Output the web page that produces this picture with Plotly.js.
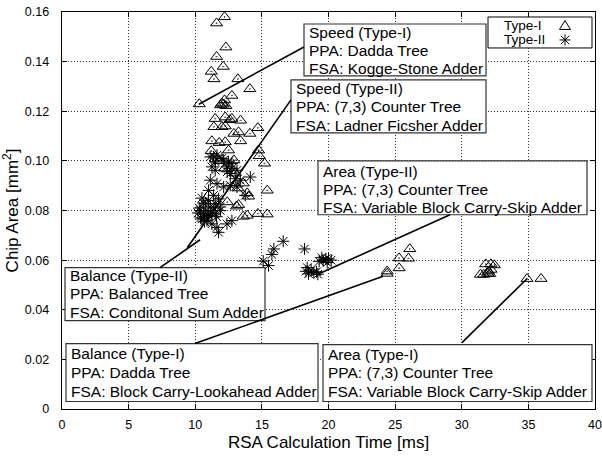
<!DOCTYPE html>
<html><head><meta charset="utf-8">
<script src="https://cdn.plot.ly/plotly-3.0.1.min.js"></script>
<style>html,body{margin:0;padding:0;background:#fff}#chart{width:602px;height:459px}</style>
</head><body><div id="chart"></div>
<script>
// ---- data ----
const typeI_x = [12.2,11.6,12.3,11.6,12.1,11.2,11.4,13.2,14.1,12.75,10.3,12.2,11.9,12.1,12.3,12.0,
  11.5,12.25,12.6,12.75,13.4,
  11.4,12.0,12.25,14.7,
  14.1,12.9,13.25,
  11.25,11.8,12.25,13.4,
  12.5,14.75,14.8,15.2,12.9,
  15.4,14.0,13.1,13.9,14.7,15.4,12.4,13.25,13.9,13.6,13.2,13.6,
  11.2,11.8,12.2,13.0,
  24.4,24.4,25.3,25.3,26.0,26.1,
  31.8,32.2,32.45,31.4,31.65,31.95,32.2,32.1,32.0,
  34.9,35.95];
const typeI_y = [0.158,0.1555,0.1458,0.142,0.138,0.136,0.133,0.133,0.129,0.1263,0.1229,0.1245,0.1225,0.1228,0.1222,0.1232,
  0.117,0.1176,0.1165,0.117,0.1163,
  0.1137,0.1137,0.114,0.1133,
  0.111,0.111,0.1116,
  0.108,0.1073,0.1076,0.108,
  0.1043,0.1043,0.102,0.099,0.1003,
  0.0881,0.0857,0.0817,0.078,0.0787,0.0785,0.0834,0.0823,0.087,0.0776,0.089,0.091,
  0.104,0.1,0.097,0.095,
  0.0555,0.0546,0.0568,0.0608,0.0607,0.0645,
  0.0584,0.0584,0.058,0.0542,0.0542,0.0547,0.0562,0.0545,0.0555,
  0.0525,0.0525];
const typeII_x = [11.13,11.38,11.63,12.13,12.5,12.75,11.25,11.5,12.38,13.13,12.63,13.0,13.38,14.13,11.13,11.63,12.13,12.63,13.13,13.75,
  11.0,11.38,11.75,10.75,11.13,11.5,11.88,10.38,10.63,11.0,11.5,11.88,10.5,10.88,11.25,11.63,12.38,12.75,11.75,
  10.2,10.3,10.4,10.6,10.8,11.0,11.2,10.5,11.4,10.9,10.7,11.6,
  12.4,12.0,11.5,12.75,
  16.6,15.9,15.75,15.1,15.5,18.2,
  18.3,18.5,18.7,18.9,19.1,18.4,19.2,
  19.3,19.6,19.8,20.0,20.2,19.5,19.9];
const typeII_y = [0.1016,0.1016,0.1023,0.1003,0.0996,0.0989,0.0976,0.0962,0.0976,0.0962,0.0949,0.0928,0.0922,0.0935,0.0922,0.0908,0.0895,0.0901,0.0895,0.0861,
  0.0881,0.0861,0.0847,0.0827,0.0814,0.0827,0.0814,0.08,0.0786,0.078,0.0786,0.08,0.0766,0.0759,0.0746,0.0732,0.0746,0.0759,0.0712,
  0.079,0.081,0.077,0.083,0.08,0.084,0.079,0.085,0.081,0.0775,0.0755,0.0775,
  0.0956,0.101,0.0996,0.097,
  0.0676,0.0645,0.0623,0.0596,0.0578,0.0645,
  0.0555,0.0545,0.056,0.055,0.0553,0.057,0.0543,
  0.0595,0.06,0.0605,0.0605,0.06,0.061,0.059];
const xTickVals = [0,5,10,15,20,25,30,35,40];
const xTickText = ['0','5','10','15','20','25','30','35','40'];
const yTickVals = [0,0.02,0.04,0.06,0.08,0.10,0.12,0.14,0.16];
const yTickText = ['0','0.02','0.04','0.06','0.08','0.10','0.12','0.14','0.16'];
const seriesNames = ['Type-I','Type-II'];
const boxLines = [
  ['Speed (Type-I)','PPA: Dadda Tree','FSA: Kogge-Stone Adder'],
  ['Speed (Type-II)','PPA: (7,3) Counter Tree','FSA: Ladner Ficsher Adder'],
  ['Area (Type-II)','PPA: (7,3) Counter Tree','FSA: Variable Block Carry-Skip Adder'],
  ['Balance (Type-II)','PPA: Balanced Tree','FSA: Conditonal Sum Adder'],
  ['Balance (Type-I)','PPA: Dadda Tree','FSA: Block Carry-Lookahead Adder'],
  ['Area (Type-I)','PPA: (7,3) Counter Tree','FSA: Variable Block Carry-Skip Adder']
];
// pointed-at design points (data units)
const pointX = [10.3, 9.4, 19.2, 10.36, 24.1, 34.9];
const pointY = [0.1229, 0.065, 0.0543, 0.0682, 0.0535, 0.0525];

// ---- layout geometry (pixels) ----
const PL=62, PR=595, PT=12, PB=409.5, W=602, H=459;
const xp = px => (px-PL)/(PR-PL);
const yp = py => (PB-py)/(PB-PT);
const fx = px => xp(px)*40;
const fy = py => yp(py)*0.16;
// boxes: [left, top, right, bottom, line centres]
const boxes = [
  [304,24,486,76,[32.3,50.3,69]],
  [291,80,486,133,[88.3,106.7,125.7]],
  [318,161,587,215,[171.7,189.3,207.7]],
  [65,268,265,321,[275.5,293.8,312.5]],
  [66,344,318,402,[354.3,372.7,391.7]],
  [323,345,592,402,[355,373.3,392.3]]
];
// pointer starting points on box edges (pixels)
const pointerFrom = [[304,47],[291,100],[450,215],[160,268],[195,344],[462,343]];

const FONT = 'Liberation Sans, Arial, Helvetica, sans-serif';
const shapes = [], annotations = [];
boxes.forEach((b,i)=>{
  shapes.push({type:'rect',xref:'paper',yref:'paper',x0:xp(b[0]),x1:xp(b[2]),y0:yp(b[3]),y1:yp(b[1]),
    line:{color:'#333',width:1.2},fillcolor:'white',layer:'above'});
  b[4].forEach((cy,j)=>{
    annotations.push({xref:'paper',yref:'paper',x:xp(b[0]+2.5),y:yp(cy),xanchor:'left',yanchor:'middle',
      text:boxLines[i][j],showarrow:false,font:{family:FONT,size:15.5,color:'#000'}});
  });
});
pointerFrom.forEach((p,i)=>{
  shapes.push({type:'line',xref:'x',yref:'y',x0:fx(p[0]),y0:fy(p[1]),x1:pointX[i],y1:pointY[i],
    line:{color:'#000',width:1.6},layer:'above'});
});
// legend box, texts and key symbols
shapes.push({type:'rect',xref:'paper',yref:'paper',x0:xp(488),x1:xp(592),y0:yp(48),y1:yp(17),
  line:{color:'#000',width:1},fillcolor:'white',layer:'above'});
annotations.push({xref:'paper',yref:'paper',x:xp(502),y:yp(25.5),xanchor:'left',yanchor:'middle',text:seriesNames[0],showarrow:false,font:{family:FONT,size:13.5,color:'#000'}});
annotations.push({xref:'paper',yref:'paper',x:xp(502),y:yp(40),xanchor:'left',yanchor:'middle',text:seriesNames[1],showarrow:false,font:{family:FONT,size:13.5,color:'#000'}});
const P = (px,py)=>xp(px).toFixed(5)+','+yp(py).toFixed(5);
const kx = 565, k1 = 25.5, k2 = 40, kr = 5.5;
shapes.push({type:'path',xref:'paper',yref:'paper',layer:'above',line:{color:'#000',width:1},
  path:'M'+P(kx-5.5,k1+4)+' L'+P(kx+5.5,k1+4)+' L'+P(kx,k1-5)+' Z'});
[[0,kr,0,-kr],[kr,0,-kr,0],[kr*0.75,kr*0.75,-kr*0.75,-kr*0.75],[kr*0.75,-kr*0.75,-kr*0.75,kr*0.75]].forEach(s=>{
  shapes.push({type:'line',xref:'paper',yref:'paper',layer:'above',line:{color:'#000',width:1},
    x0:xp(kx+s[0]),y0:yp(k2+s[1]),x1:xp(kx+s[2]),y1:yp(k2+s[3])});
});

const traces = [
  {x:typeI_x,y:typeI_y,type:'scatter',mode:'markers',name:seriesNames[0],
   marker:{symbol:'triangle-up-open-dot',size:10.5,color:'#000',line:{width:1,color:'#000'}}},
  {x:typeII_x,y:typeII_y,type:'scatter',mode:'markers',name:seriesNames[1],
   marker:{symbol:'asterisk-open',size:10,color:'#000',line:{width:1,color:'#000'}}}
];

const axisCommon = {showline:true,linecolor:'#000',linewidth:1.3,mirror:'ticks',ticks:'inside',ticklen:5,
  tickcolor:'#000',tickwidth:1,showgrid:true,gridcolor:'#333',griddash:'1px,2px',gridwidth:1,zeroline:false,
  tickfont:{family:FONT,size:12.5,color:'#000'}};
const layout = {
  width:W,height:H,margin:{l:PL,r:W-PR,t:PT,b:H-PB,pad:0},
  paper_bgcolor:'#fff',plot_bgcolor:'#fff',
  showlegend:false,
  xaxis:Object.assign({},axisCommon,{range:[0,40],tickvals:xTickVals,ticktext:xTickText,ticklabelstandoff:4,
    title:{text:'RSA Calculation Time [ms]',font:{family:FONT,size:17,color:'#000'},standoff:4}}),
  yaxis:Object.assign({},axisCommon,{range:[0,0.16],tickvals:yTickVals,ticktext:yTickText,ticklabelstandoff:9,
    title:{text:'Chip Area [mm<sup>2</sup>]',font:{family:FONT,size:17,color:'#000'},standoff:6}}),
  shapes:shapes,annotations:annotations
};
Plotly.newPlot('chart',traces,layout,{displayModeBar:false,staticPlot:true});
</script></body></html>
